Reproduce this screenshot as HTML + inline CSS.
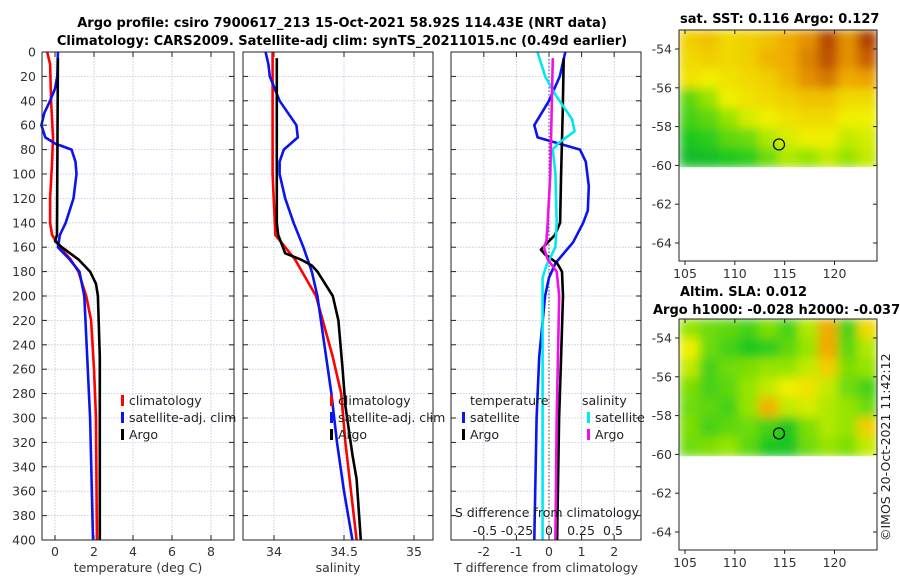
<!DOCTYPE html>
<html><head><meta charset="utf-8">
<style>
html,body{margin:0;padding:0;background:#fff;}
svg{display:block;font-family:"DejaVu Sans","Liberation Sans",sans-serif;}
</style></head>
<body>
<svg id="fig" width="900" height="580" viewBox="0 0 900 580" xmlns="http://www.w3.org/2000/svg">
<defs>
<filter id="smooth" x="0" y="0" width="1" height="1"><feGaussianBlur stdDeviation="5" edgeMode="duplicate"/></filter>
</defs>
<text x="342" y="27" font-size="13" font-weight="bold" text-anchor="middle">Argo profile: csiro 7900617_213 15-Oct-2021 58.92S 114.43E (NRT data)</text>
<text x="342" y="45" font-size="13" font-weight="bold" text-anchor="middle">Climatology: CARS2009. Satellite-adj clim: synTS_20211015.nc (0.49d earlier)</text>
<text x="680" y="23" font-size="13" font-weight="bold">sat. SST: 0.116 Argo: 0.127</text>
<text x="680" y="296" font-size="13" font-weight="bold">Altim. SLA: 0.012</text>
<text x="653" y="314" font-size="13" font-weight="bold">Argo h1000: -0.028 h2000: -0.037</text>
<text transform="translate(890,541) rotate(-90)" font-size="12.5" fill="#222">©IMOS 20-Oct-2021 11:42:12</text>
</svg>
<script>
// ---- profile data (depth in m) ----
const depthTicks=[0,20,40,60,80,100,120,140,160,180,200,220,240,260,280,300,320,340,360,380,400];
const tempTicks=[0,2,4,6,8];
const salTicks=[34,34.5,35];
const tdiffTicks=[-2,-1,0,1,2];
const sdiffTicks=[-0.5,-0.25,0,0.25,0.5];
const sdiffTickLabels=["-0.5","-0.25","0","0.25","0.5"];

const tClimDepth=[0,10,40,70,90,120,140,150,160,170,180,200,220,260,300,400];
const tClimVal=[-0.4,-0.25,-0.2,-0.1,-0.15,-0.25,-0.25,-0.15,0.25,0.8,1.2,1.6,1.85,2.0,2.1,2.15];
const tArgoDepth=[5,100,150,155,160,170,180,190,200,250,400];
const tArgoVal=[0.15,0.12,0.1,0,0.35,1.2,1.8,2.1,2.2,2.3,2.3];
const tSatDepth=[0,20,30,40,50,60,70,75,80,90,100,120,140,150,160,170,180,200,250,300,400];
const tSatVal=[0.15,0.12,0,-0.25,-0.55,-0.7,-0.5,0,0.85,1.05,1.1,0.95,0.55,0.25,0.15,0.75,1.25,1.5,1.65,1.8,1.95];

const sClimDepth=[0,100,150,170,200,250,280,320,400];
const sClimVal=[33.99,33.99,34.01,34.15,34.3,34.42,34.48,34.51,34.59];
const sArgoDepth=[5,140,150,165,170,175,180,200,220,260,290,330,350,400];
const sArgoVal=[34.02,34.02,34.03,34.08,34.19,34.27,34.31,34.42,34.46,34.49,34.51,34.56,34.59,34.62];
const sSatDepth=[0,10,20,40,60,70,80,90,100,120,140,160,180,200,240,280,320,360,400];
const sSatVal=[33.94,33.96,33.97,34.04,34.16,34.17,34.07,34.04,34.04,34.08,34.14,34.21,34.27,34.31,34.36,34.41,34.45,34.5,34.56];

const dTSatDepth=[0,20,40,60,70,80,90,110,130,140,156,173,185,200,250,300,400];
const dTSatVal=[0.5,0.33,0,-0.45,-0.35,0.95,1.13,1.22,1.19,1.05,0.74,0.2,0.0,-0.12,-0.3,-0.38,-0.45];
const dTArgoDepth=[5,50,100,140,150,162,166,173,180,200,250,300,400];
const dTArgoVal=[0.45,0.42,0.37,0.34,0.18,-0.25,-0.12,0.25,0.4,0.43,0.37,0.31,0.25];
const dSSatDepth=[0,20,35,55,65,75,80,100,140,160,175,185,250,300,400];
const dSSatVal=[-0.09,-0.03,0.05,0.18,0.2,0.07,0.03,0.05,0.06,0.05,-0.02,-0.05,-0.05,-0.05,-0.05];
const dSArgoDepth=[5,50,100,140,155,160,170,180,200,300,400];
const dSArgoVal=[0.03,0.02,0.01,-0.01,-0.02,-0.04,-0.01,0.06,0.08,0.06,0.05];

// ---- map data (rows: lat -53 .. -60, cols: lon 104.4 .. 124.3) ----
const sstGrid=[
[.62,.65,.6,.62,.65,.7,.75,.9,.75,.92],
[.6,.62,.6,.62,.68,.7,.78,.88,.75,.85],
[.58,.55,.58,.6,.62,.68,.75,.8,.7,.72],
[.38,.45,.55,.58,.6,.62,.65,.65,.6,.6],
[.35,.38,.45,.52,.55,.58,.6,.6,.55,.55],
[.3,.32,.38,.4,.48,.52,.55,.55,.5,.52],
[.22,.25,.3,.32,.4,.48,.45,.5,.45,.5]];
const slaGrid=[
[.45,.4,.38,.35,.42,.35,.48,.7,.35,.6],
[.55,.4,.35,.3,.32,.38,.45,.7,.38,.48],
[.5,.35,.4,.42,.45,.45,.5,.62,.42,.45],
[.42,.35,.38,.45,.5,.55,.58,.5,.4,.35],
[.4,.38,.35,.45,.68,.5,.52,.48,.45,.4],
[.42,.35,.38,.4,.35,.3,.42,.48,.45,.62],
[.4,.42,.45,.38,.3,.28,.4,.45,.42,.5]];
const mapLatTicks=[-54,-56,-58,-60,-62,-64];
const mapLonTicks=[105,110,115,120];
const argoLon=[114.43];
const argoLat=[-58.92];

const NS="http://www.w3.org/2000/svg";
const svg=document.getElementById('fig');
function el(tag,attrs,parent){const e=document.createElementNS(NS,tag);for(const k in attrs)e.setAttribute(k,attrs[k]);(parent||svg).appendChild(e);return e;}
function txt(s,attrs,parent){const e=el('text',attrs,parent);e.textContent=s;return e;}

const PY0=52,PY1=540;
const yDepth=d=>PY0+d/400*(PY1-PY0);
function lin(d0,d1,p0,p1){return v=>p0+(v-d0)/(d1-d0)*(p1-p0);}

function panel(name,x0,x1,xs,ticks,labels,xtitle,showDepth){
  const g=el('g',{});
  
  
  el('rect',{x:x0,y:PY0,width:x1-x0,height:PY1-PY0,fill:'#fff'},g);
  depthTicks.forEach(d=>{
    const y=yDepth(d);
    const l=el('line',{x1:x0,x2:x1,y1:y,y2:y,stroke:'#b8c4e8','stroke-width':0.8,'stroke-dasharray':'1.5,1.5'},g);
    
    
    el('line',{x1:x0,x2:x0+5,y1:y,y2:y,stroke:'#222'},g);
    el('line',{x1:x1-5,x2:x1,y1:y,y2:y,stroke:'#222'},g);
    if(showDepth){const t=txt(String(d),{x:36,y:y+4.5,'font-size':12.5,'text-anchor':'end',fill:'#333'},g);
      }
  });
  ticks.forEach((v,i)=>{
    const x=xs(v);
    el('line',{x1:x,x2:x,y1:PY0,y2:PY1,stroke:'#b8c4e8','stroke-width':0.8,'stroke-dasharray':'1.5,1.5'},g);
    el('line',{x1:x,x2:x,y1:PY1-5,y2:PY1,stroke:'#222'},g);
    el('line',{x1:x,x2:x,y1:PY0,y2:PY0+5,stroke:'#222'},g);
    const t=txt(labels[i],{x:x,y:556,'font-size':12.5,'text-anchor':'middle',fill:'#333'},g);
    
  });
  const t=txt(xtitle,{x:(x0+x1)/2,y:572,'font-size':12.5,'text-anchor':'middle',fill:'#333'},g);
  
  return g;
}
function border(x0,x1){el('rect',{x:x0,y:PY0,width:x1-x0,height:PY1-PY0,fill:'none',stroke:'#222','stroke-width':1});}
function series(name,ds,vs,xs,color,w){
  const pts=ds.map((d,i)=>xs(vs[i]).toFixed(1)+','+yDepth(d).toFixed(1)).join(' ');
  const p=el('polyline',{points:pts,fill:'none',stroke:color,'stroke-width':w||2.6,'stroke-linejoin':'round'});
  
  
}
function legendEntry(name,x,y,color,label){
  const g=el('g',{});
  
  
  el('rect',{x:x,y:y-10,width:3,height:11,fill:color},g);
  txt(label,{x:x+8,y:y,'font-size':12.5,fill:'#222'},g);
}

// Panel 1 temperature
const xT=lin(0,8,55,211);
panel('temperature',42,234,xT,tempTicks,tempTicks.map(String),'temperature (deg C)',true);
series('temperature-climatology-line',tClimDepth,tClimVal,xT,'#ff0000');
series('temperature-satellite-line',tSatDepth,tSatVal,xT,'#0a14f0');
series('temperature-argo-line',tArgoDepth,tArgoVal,xT,'#000');
border(42,234);
legendEntry('legend-climatology',121,405,'#ff0000','climatology');
legendEntry('legend-satellite-adj-clim',121,422,'#0a14f0','satellite-adj. clim');
legendEntry('legend-argo',121,439,'#000','Argo');

// Panel 2 salinity
const xS=lin(34,35,274,414);
panel('salinity',243,433,xS,salTicks,['34','34.5','35'],'salinity',false);
series('salinity-climatology-line',sClimDepth,sClimVal,xS,'#ff0000');
series('salinity-satellite-line',sSatDepth,sSatVal,xS,'#0a14f0');
series('salinity-argo-line',sArgoDepth,sArgoVal,xS,'#000');
border(243,433);
legendEntry('legend-climatology-sal',330,405,'#ff0000','climatology');
legendEntry('legend-satellite-adj-clim-sal',330,422,'#0a14f0','satellite-adj. clim');
legendEntry('legend-argo-sal',330,439,'#000','Argo');

// Panel 3 differences
const xD=lin(0,1,549,581.6);
const xSD=lin(0,0.5,549,613);
panel('difference',451,641,xD,tdiffTicks,tdiffTicks.map(String),'T difference from climatology',false);
const zl=el('line',{x1:xD(0),x2:xD(0),y1:PY0,y2:PY1,stroke:'#444','stroke-width':1,'stroke-dasharray':'1.5,2'});

series('tdiff-satellite-line',dTSatDepth,dTSatVal,xD,'#0a14f0');
series('tdiff-argo-line',dTArgoDepth,dTArgoVal,xD,'#000');
series('sdiff-satellite-line',dSSatDepth,dSSatVal,xSD,'#00e8f0');
series('sdiff-argo-line',dSArgoDepth,dSArgoVal,xSD,'#f010e8');
border(451,641);
const lt=txt('temperature',{x:470,y:405,'font-size':12.5,fill:'#222'});

const ls=txt('salinity',{x:582,y:405,'font-size':12.5,fill:'#222'});

legendEntry('legend-t-satellite',462,422,'#0a14f0','satellite');
legendEntry('legend-t-argo',462,439,'#000','Argo');
legendEntry('legend-s-satellite',587,422,'#00e8f0','satellite');
legendEntry('legend-s-argo',587,439,'#f010e8','Argo');
const st=txt('S difference from climatology',{x:547,y:517,'font-size':12.5,'text-anchor':'middle',fill:'#222'});

sdiffTicks.forEach((v,i)=>{
  const t=txt(sdiffTickLabels[i],{x:xSD(v),y:535,'font-size':12.5,'text-anchor':'middle',fill:'#222'});
  
  
});

// ---- maps ----
const stops=[[0,[0,150,70]],[0.3,[30,200,30]],[0.45,[150,228,0]],[0.55,[240,240,0]],[0.7,[240,170,0]],[0.85,[200,95,0]],[1,[150,30,0]]];
function cmap(v){for(let i=1;i<stops.length;i++){if(v<=stops[i][0]){const a=stops[i-1],b=stops[i];const f=(v-a[0])/(b[0]-a[0]);const c=a[1].map((x,k)=>Math.round(x+(b[1][k]-x)*f));return 'rgb('+c.join(',')+')';}}return 'rgb(150,30,0)';}
let mapCount=0;
function drawMap(name,grid,top){
  const xL=lin(105,120,685,834.5);
  const yL=lin(-54,-64,top+19,top+213);
  const X0=679,X1=877,Y0=top,Y1=top+231;
  const g=el('g',{});
  
  
  const rows=grid.length,cols=grid[0].length;
  const lon0=104.4,lon1=124.3,lat0=-53,lat1=-60.1;
  const defs=svg.querySelector('defs');
  const cid='clip'+(mapCount++);
  const cp=el('clipPath',{id:cid},defs);
  el('rect',{x:X0,y:Y0,width:X1-X0,height:(yL(lat1)-Y0).toFixed(1)},cp);
  const cg=el('g',{'clip-path':'url(#'+cid+')'},g);
  const fg=el('g',{filter:'url(#smooth)'},cg);
  for(let r=0;r<rows;r++)for(let c=0;c<cols;c++){
    const xa=xL(lon0+(lon1-lon0)*c/cols),xb=xL(lon0+(lon1-lon0)*(c+1)/cols);
    const ya=yL(lat0+(lat1-lat0)*r/rows),yb=yL(lat0+(lat1-lat0)*(r+1)/rows);
    const cell=el('rect',{x:xa.toFixed(1),y:ya.toFixed(1),width:(xb-xa+0.6).toFixed(1),height:(yb-ya+0.6).toFixed(1),fill:cmap(grid[r][c])},fg);
    
    
  }
  el('rect',{x:X0,y:Y0,width:X1-X0,height:Y1-Y0,fill:'none',stroke:'#222'},g);
  mapLatTicks.forEach(v=>{const y=yL(v);
    el('line',{x1:X0,x2:X0-4,y1:y,y2:y,stroke:'#222'},g);
    el('line',{x1:X1,x2:X1-4,y1:y,y2:y,stroke:'#222'},g);
    const t=txt(String(v),{x:672,y:y+4.5,'font-size':12.5,'text-anchor':'end',fill:'#333'},g);
    });
  mapLonTicks.forEach(v=>{const x=xL(v);
    el('line',{x1:x,x2:x,y1:Y1,y2:Y1+4,stroke:'#222'},g);
    el('line',{x1:x,x2:x,y1:Y0,y2:Y0+4,stroke:'#222'},g);
    const t=txt(String(v),{x:x,y:Y1+17,'font-size':12.5,'text-anchor':'middle',fill:'#333'},g);
    });
  const c=el('circle',{cx:xL(argoLon[0]),cy:yL(argoLat[0]),r:5.5,fill:'none',stroke:'#000','stroke-width':1.2},g);
  
  
}
drawMap('sst-map',sstGrid,30);
drawMap('sla-map',slaGrid,319);
</script>
</body></html>
